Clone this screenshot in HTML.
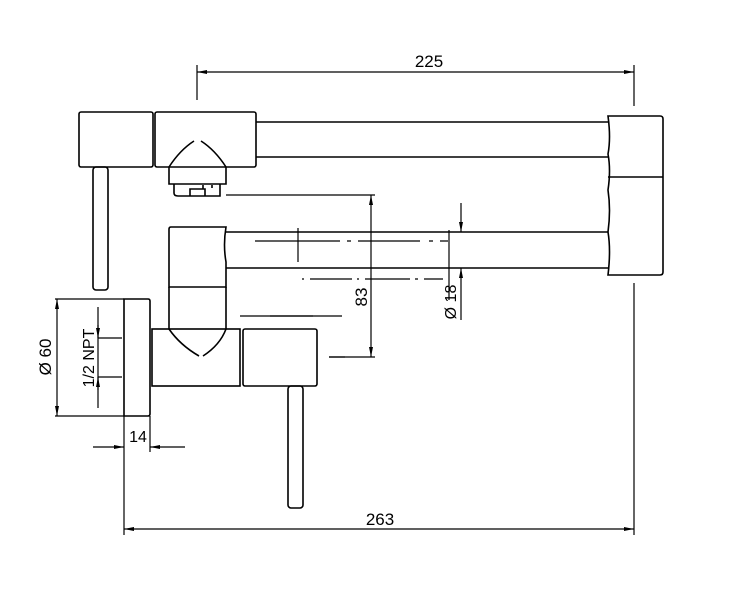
<!DOCTYPE html>
<html><head><style>body{margin:0;background:#fff}svg{display:block}text{font-family:"Liberation Sans",sans-serif;fill:#000}</style></head>
<body>
<svg width="750" height="602" viewBox="0 0 750 602" xmlns="http://www.w3.org/2000/svg">
<defs><marker id="a" viewBox="0 0 10 4" refX="10" refY="2" markerWidth="10" markerHeight="4" orient="auto-start-reverse" markerUnits="userSpaceOnUse"><path d="M0,0 L10,2 L0,4z" fill="#000"/></marker></defs>
<g fill="none" stroke="#000" stroke-width="1.6">
<!-- top assembly -->
<rect x="79" y="112" width="74" height="55" rx="2"/>
<rect x="155" y="112" width="101" height="55" rx="2"/>
<rect x="93" y="167" width="15" height="123" rx="3"/>
<path d="M169,167 Q180,150 194,141 M201,141 Q215,150 226,167"/>
<path d="M169,167 V184 H226 V167"/>
<path d="M174,184 V193 Q174,196 178,196 H220 V184"/>
<path d="M190,196 V189 H205 V196 M203,189 V185 M212,185 V188"/>
<path d="M256,122 H608 M256,157 H608"/>
<!-- right block -->
<path d="M608,116 H660 Q663,116 663,119 V272 Q663,275 660,275 H608 Q611,250 608,232 Q611,210 608,190 Q611,170 608,154 Q611,138 608,116z"/>
<path d="M608,177 H663"/>
<path d="M226,232 H608 M226,268 H608"/>
<!-- lower vertical -->
<path d="M169,287 V229 Q169,227 171,227 H226 Q223,245 226,262 V287 Z"/>
<path d="M169,287 V329 M226,287 V329"/>
<path d="M169,329 Q180,345 199,356 M203,356 Q220,345 226,329"/>
<rect x="152" y="329" width="88" height="57"/>
<rect x="243" y="329" width="74" height="57" rx="2"/>
<rect x="288" y="386" width="15" height="122" rx="3"/>
<path d="M124,299 H148 Q150,299 150,301 V414 Q150,416 148,416 H124 Z"/>
</g>
<g fill="none" stroke="#000" stroke-width="1.2">
<!-- 225 -->
<path d="M197,65 V100 M634,65 V106 M634,283 V535"/>
<path d="M197,72 H634" marker-start="url(#a)" marker-end="url(#a)"/>
<!-- 263 -->
<path d="M124,416 V535"/>
<path d="M124,529 H634" marker-start="url(#a)" marker-end="url(#a)"/>
<!-- 60 -->
<path d="M55,299 H124 M55,416 H124"/>
<path d="M57,299 V416" marker-start="url(#a)" marker-end="url(#a)"/>
<path d="M98,307 V408 M98,338 H122 M98,377 H122"/>
<path d="M98,325 V338" marker-end="url(#a)"/><path d="M98,390 V377" marker-end="url(#a)"/>
<!-- 14 -->
<path d="M150,416 V452"/>
<path d="M93,447 H124" marker-end="url(#a)"/><path d="M185,447 H150" marker-end="url(#a)"/>
<!-- 83 -->
<path d="M226,195 H375 M329,357 H375"/>
<path d="M371,195 V357" marker-start="url(#a)" marker-end="url(#a)"/>
<!-- 18 -->
<path d="M449,230 V300"/>
<path d="M461,203 V232" marker-end="url(#a)"/><path d="M461,320 V268" marker-end="url(#a)"/>
<!-- center lines -->
<path d="M255,241 H340 M347,241 H351 M358,241 H420 M429,241 H433 M440,241 H448" />
<path d="M298,228 V262"/>
<path d="M302,279 H304 M310,279 H352 M357,279 H359 M365,279 H410 M415,279 H418 M424,279 H443"/>
<path d="M270,316 H342 M329,357 H345"/>
<path d="M240,316 H313"/>
</g>
<text x="429" y="67" font-size="17" text-anchor="middle">225</text>
<text x="380" y="525" font-size="17" text-anchor="middle">263</text>
<text x="138" y="442" font-size="16" text-anchor="middle">14</text>
<text transform="translate(367,297) rotate(-90)" font-size="17" text-anchor="middle">83</text>
<text transform="translate(456,302) rotate(-90)" font-size="16" text-anchor="middle">Ø 18</text>
<text transform="translate(51,357) rotate(-90)" font-size="17" text-anchor="middle">Ø 60</text>
<text transform="translate(94,358) rotate(-90)" font-size="16" text-anchor="middle">1/2  NPT</text>
</svg>
</body></html>
